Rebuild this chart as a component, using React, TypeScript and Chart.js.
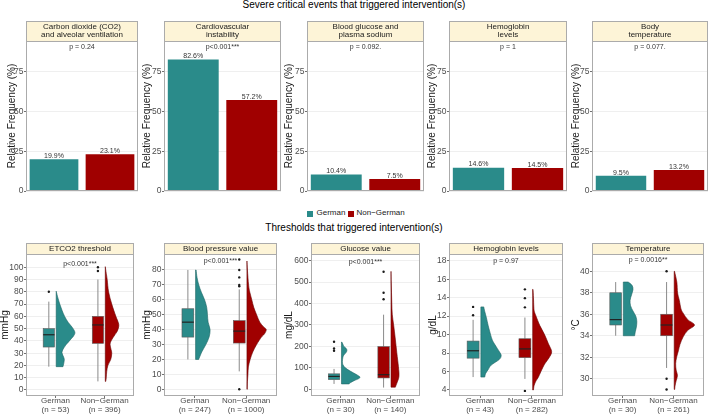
import React, { useEffect, useRef } from "react";
import { Chart, registerables } from "chart.js";

Chart.register(...registerables);

const FONT = "'Liberation Sans', Arial, Helvetica, sans-serif";
const TEAL = "#2A8B8A";
const RED = "#A00000";
const TEAL_EDGE = "#1D6463";
const RED_EDGE = "#6A0000";
const STRIP_FILL = "#FDF4D7";
const FRAME = "#ABABAB";
const GRID = "#EBEBEB";
const TICK_TEXT = "#4D4D4D";
const WHISKER = "#8A8A8A";
const BOX_EDGE = "#5A5A5A";
const MEDIAN = "#222222";

// ---------- Severe critical events that triggered intervention(s) ----------
const eventStrips = [
  ["Carbon dioxide (CO2)", "and alveolar ventilation"],
  ["Cardiovascular", "instability"],
  ["Blood glucose and", "plasma sodium"],
  ["Hemoglobin", "levels"],
  ["Body", "temperature"],
];
const eventPLabels = ["p = 0.24", "p<0.001***", "p = 0.092.", "p = 1", "p = 0.077."];
const germanFreq = [19.9, 82.6, 10.4, 14.6, 9.5];
const nonGermanFreq = [23.1, 57.2, 7.5, 14.5, 13.2];
const freqTicks = [0, 25, 50, 75];
const groupNames = ["German", "Non\u2212German"];

// ---------- Thresholds that triggered intervention(s) ----------
const thresholdStrips = ["ETCO2 threshold", "Blood pressure value", "Glucose value", "Hemoglobin levels", "Temperature"];
const thresholdUnits = ["mmHg", "mmHg", "mg/dL", "g/dL", "\u00B0C"];
const thresholdPLabels = ["p<0.001***", "p<0.001***", "p<0.001***", "p = 0.97", "p = 0.0016**"];
const germanN = [53, 247, 30, 43, 30];
const nonGermanN = [396, 1000, 140, 282, 261];

const etco2Ticks = [0, 10, 20, 30, 40, 50, 60, 70, 80, 90, 100];
const bpTicks = [0, 10, 20, 30, 40, 50, 60, 70, 80];
const glucoseTicks = [0, 100, 200, 300, 400, 500, 600];
const hbTicks = [4, 6, 8, 10, 12, 14, 16, 18];
const tempTicks = [30, 32, 34, 36, 38, 40];

// box statistics: [lower whisker, Q1, median, Q3, upper whisker]
const etco2GermanBox = [19, 35, 45, 50, 72];
const etco2NonGermanBox = [7, 38, 53, 60, 90];
const bpGermanBox = [20, 35, 45, 54, 80];
const bpNonGermanBox = [12, 31, 39, 46, 67];
const glucoseGermanBox = [25, 45, 60, 72, 95];
const glucoseNonGermanBox = [8, 53, 68, 199, 348];
const hbGermanBox = [5.4, 7.45, 8.25, 9.3, 11.6];
const hbNonGermanBox = [5.2, 7.5, 8.45, 9.55, 11.85];
const tempGermanBox = [34, 35, 35.5, 38, 39];
const tempNonGermanBox = [31, 34, 35, 36, 39];

// outlying observations
const etco2GermanOut = [80];
const etco2NonGermanOut = [97, 100];
const bpGermanOut: number[] = [];
const bpNonGermanOut = [0, 69, 70, 75, 80, 87];
const glucoseGermanOut = [180, 190, 222];
const glucoseNonGermanOut = [420, 450, 548];
const hbGermanOut = [12.1, 13];
const hbNonGermanOut = [3.9, 12.95, 13.95, 14.9];
const tempGermanOut: number[] = [];
const tempNonGermanOut = [29, 30, 40];

// half-violin density profiles: [value, density width in x units], top to bottom
const etco2GermanViolin = [[80.5, 0], [75, 0.035], [70, 0.073], [65, 0.118], [60, 0.171], [55, 0.246], [51, 0.328], [47, 0.381], [44, 0.354], [41.6, 0.303], [38, 0.226], [36, 0.185], [33, 0.138], [30.6, 0.118], [28, 0.138], [25, 0.165], [21, 0.151], [19, 0.138]];
const etco2NonGermanViolin = [[100.5, 0], [95, 0.02], [90, 0.039], [80, 0.067], [70, 0.132], [60, 0.216], [55, 0.265], [52, 0.275], [48, 0.246], [45, 0.196], [40, 0.118], [37, 0.098], [33, 0.118], [30, 0.132], [25, 0.112], [20, 0.053], [15, 0.029], [10, 0.02], [7, 0.01]];
const bpGermanViolin = [[80, 0.01], [75, 0.028], [70, 0.062], [65, 0.113], [60, 0.175], [55, 0.216], [50, 0.231], [45, 0.244], [40, 0.282], [35, 0.263], [30, 0.2], [25, 0.12], [20, 0.06]];
const bpNonGermanViolin = [[86, 0], [80, 0.009], [70, 0.032], [65, 0.056], [60, 0.094], [55, 0.132], [50, 0.188], [45, 0.25], [42, 0.32], [40, 0.376], [37, 0.338], [35, 0.282], [30, 0.188], [25, 0.113], [20, 0.062], [15, 0.028], [10, 0.019], [5, 0.009], [0, 0.006]];
const glucoseGermanViolin = [[220, 0.01], [210, 0.029], [200, 0.049], [190, 0.097], [180, 0.109], [170, 0.088], [160, 0.049], [150, 0.029], [130, 0.019], [115, 0.029], [100, 0.078], [85, 0.175], [70, 0.292], [58, 0.37], [50, 0.35], [40, 0.253], [30, 0.175], [25, 0.156]];
const glucoseNonGermanViolin = [[550, 0], [500, 0.004], [450, 0.01], [400, 0.016], [350, 0.025], [300, 0.053], [240, 0.084], [170, 0.117], [105, 0.15], [60, 0.16], [28, 0.117], [10, 0.088]];
const hbGermanViolin = [[13, 0.056], [12.5, 0.075], [11.85, 0.106], [11, 0.14], [10.4, 0.168], [9.5, 0.215], [9, 0.261], [8.5, 0.317], [8, 0.373], [7.7, 0.392], [7.3, 0.354], [6.7, 0.2], [6.2, 0.14], [5.8, 0.093], [5.4, 0.075]];
const hbNonGermanViolin = [[14.9, 0.006], [14, 0.015], [13, 0.022], [12.5, 0.032], [12, 0.065], [11, 0.136], [10, 0.229], [9, 0.304], [8.15, 0.366], [7.5, 0.317], [6.8, 0.229], [6, 0.159], [5.35, 0.106], [5, 0.065], [4.5, 0.028], [4, 0.015]];
const tempGermanViolin = [[39, 0.095], [38.7, 0.171], [38.3, 0.19], [37.8, 0.161], [37.3, 0.133], [36.8, 0.142], [36.3, 0.19], [35.8, 0.247], [35.3, 0.266], [34.8, 0.256], [34.4, 0.237], [34, 0.222]];
const tempNonGermanViolin = [[40, 0.006], [39, 0.051], [38, 0.066], [37.3, 0.1], [36.5, 0.133], [36.1, 0.176], [35.5, 0.266], [35, 0.398], [34.5, 0.266], [33.9, 0.176], [33.2, 0.114], [32.6, 0.082], [32, 0.047], [31.4, 0.028], [30.8, 0.038], [30.3, 0.063], [29.8, 0.038], [29.4, 0.019], [29, 0.009]];

const thresholdPanels = [
  { ticks: etco2Ticks, range: [-4.9, 110.8], pY: 102.7, boxes: [etco2GermanBox, etco2NonGermanBox], outliers: [etco2GermanOut, etco2NonGermanOut], violins: [etco2GermanViolin, etco2NonGermanViolin] },
  { ticks: bpTicks, range: [-4.5, 90.7], pY: 86, boxes: [bpGermanBox, bpNonGermanBox], outliers: [bpGermanOut, bpNonGermanOut], violins: [bpGermanViolin, bpNonGermanViolin] },
  { ticks: glucoseTicks, range: [-31.3, 631], pY: 595, boxes: [glucoseGermanBox, glucoseNonGermanBox], outliers: [glucoseGermanOut, glucoseNonGermanOut], violins: [glucoseGermanViolin, glucoseNonGermanViolin] },
  { ticks: hbTicks, range: [3.35, 18.73], pY: 18, boxes: [hbGermanBox, hbNonGermanBox], outliers: [hbGermanOut, hbNonGermanOut], violins: [hbGermanViolin, hbNonGermanViolin] },
  { ticks: tempTicks, range: [28.39, 41.61], pY: 41, boxes: [tempGermanBox, tempNonGermanBox], outliers: [tempGermanOut, tempNonGermanOut], violins: [tempGermanViolin, tempNonGermanViolin] },
];

// ---------- layout ----------
const FREQ_MAX = 94.2;
const FREQ_P_Y = 90.5;
const BOX_SHIFT = -0.135;
const BOX_HALF = 0.115;
const VIOLIN_SHIFT = 0.015;

const topPanels = [
  { left: 6, axisW: 20, right: 138 },
  { left: 141, axisW: 23, right: 281 },
  { left: 283, axisW: 24, right: 424 },
  { left: 426, axisW: 23, right: 567 },
  { left: 570, axisW: 22, right: 708 },
];
const bottomPanels = [
  { left: -1, axisW: 27, right: 138 },
  { left: 141, axisW: 23, right: 281 },
  { left: 283, axisW: 28, right: 424 },
  { left: 427, axisW: 22, right: 567 },
  { left: 570, axisW: 22, right: 708 },
];
const TOP_Y = 21;
const TOP_STRIP = 20;
const TOP_H = 178;
const BOT_Y = 243;
const BOT_STRIP = 11;
const BOT_H = 171;
const X_AXIS_H = 18;

const panelDecor = {
  id: "panelDecor",
  afterDraw(chart: any, _args: any, opts: any) {
    const { ctx, chartArea: a } = chart;
    const ys = chart.scales.y;
    const w = a.right - a.left;
    const stripTop = a.top - opts.stripH;
    ctx.save();
    ctx.fillStyle = STRIP_FILL;
    ctx.fillRect(a.left, stripTop, w, opts.stripH);
    ctx.strokeStyle = FRAME;
    ctx.lineWidth = 1;
    ctx.strokeRect(a.left + 0.5, stripTop + 0.5, w - 1, opts.stripH);
    ctx.strokeRect(a.left + 0.5, a.top + 0.5, w - 1, a.bottom - a.top - 1);
    const cx = (a.left + a.right) / 2;
    ctx.fillStyle = "#1A1A1A";
    ctx.font = `8px ${FONT}`;
    ctx.textAlign = "center";
    ctx.textBaseline = "middle";
    const lines: string[] = opts.strip;
    const mid = stripTop + opts.stripH / 2;
    lines.forEach((t, k) => ctx.fillText(t, cx, mid + (k - (lines.length - 1) / 2) * 8.3));
    ctx.font = `7px ${FONT}`;
    ctx.fillStyle = "#333333";
    ctx.fillText(opts.pLabel, cx, ys.getPixelForValue(opts.pY));
    ctx.restore();
  },
};

const barValues = {
  id: "barValues",
  afterDatasetsDraw(chart: any) {
    const { ctx } = chart;
    const meta = chart.getDatasetMeta(0);
    const vals = chart.data.datasets[0].data;
    ctx.save();
    ctx.font = `7px ${FONT}`;
    ctx.fillStyle = "#333333";
    ctx.textAlign = "center";
    ctx.textBaseline = "alphabetic";
    meta.data.forEach((el: any, k: number) => ctx.fillText(`${Number(vals[k]).toFixed(1)}%`, el.x, el.y - 1.3));
    ctx.restore();
  },
};

function drawViolin(ctx: any, xs: any, ys: any, base: number, profile: number[][], fill: string, edge: string) {
  const x0 = xs.getPixelForValue(base);
  const pts = profile.map(([v, w]) => [xs.getPixelForValue(base + w), ys.getPixelForValue(v)]);
  ctx.beginPath();
  ctx.moveTo(x0, pts[0][1]);
  ctx.lineTo(pts[0][0], pts[0][1]);
  for (let i = 0; i < pts.length - 1; i++) {
    const p0 = pts[Math.max(i - 1, 0)];
    const p1 = pts[i];
    const p2 = pts[i + 1];
    const p3 = pts[Math.min(i + 2, pts.length - 1)];
    ctx.bezierCurveTo(
      p1[0] + (p2[0] - p0[0]) / 6, p1[1] + (p2[1] - p0[1]) / 6,
      p2[0] - (p3[0] - p1[0]) / 6, p2[1] - (p3[1] - p1[1]) / 6,
      p2[0], p2[1]
    );
  }
  ctx.lineTo(x0, pts[pts.length - 1][1]);
  ctx.closePath();
  ctx.fillStyle = fill;
  ctx.fill();
  ctx.strokeStyle = edge;
  ctx.lineWidth = 0.6;
  ctx.stroke();
}

function drawBox(ctx: any, xs: any, ys: any, cx: number, stats: number[], fill: string) {
  const [lo, q1, med, q3, hi] = stats;
  const x = xs.getPixelForValue(cx);
  const xl = xs.getPixelForValue(cx - BOX_HALF);
  const xr = xs.getPixelForValue(cx + BOX_HALF);
  ctx.strokeStyle = WHISKER;
  ctx.lineWidth = 1;
  ctx.beginPath();
  ctx.moveTo(x, ys.getPixelForValue(hi));
  ctx.lineTo(x, ys.getPixelForValue(q3));
  ctx.moveTo(x, ys.getPixelForValue(q1));
  ctx.lineTo(x, ys.getPixelForValue(lo));
  ctx.stroke();
  const yt = ys.getPixelForValue(q3);
  const yb = ys.getPixelForValue(q1);
  ctx.fillStyle = fill;
  ctx.fillRect(xl, yt, xr - xl, yb - yt);
  ctx.strokeStyle = BOX_EDGE;
  ctx.lineWidth = 0.6;
  ctx.strokeRect(xl, yt, xr - xl, yb - yt);
  ctx.strokeStyle = MEDIAN;
  ctx.lineWidth = 1.2;
  ctx.beginPath();
  ctx.moveTo(xl, ys.getPixelForValue(med));
  ctx.lineTo(xr, ys.getPixelForValue(med));
  ctx.stroke();
}

const rainCloud = {
  id: "rainCloud",
  beforeDatasetsDraw(chart: any, _args: any, opts: any) {
    const { ctx, chartArea: a } = chart;
    const xs = chart.scales.x;
    const ys = chart.scales.y;
    const fills = [TEAL, RED];
    const edges = [TEAL_EDGE, RED_EDGE];
    ctx.save();
    ctx.beginPath();
    ctx.rect(a.left, a.top, a.right - a.left, a.bottom - a.top);
    ctx.clip();
    [0, 1].forEach((k) => {
      const c = k + 1;
      drawViolin(ctx, xs, ys, c + VIOLIN_SHIFT, opts.violins[k], fills[k], edges[k]);
      drawBox(ctx, xs, ys, c + BOX_SHIFT, opts.boxes[k], fills[k]);
    });
    ctx.restore();
  },
};

function yAxis(axisW: number, title: string, ticks: number[], min: number, max: number) {
  return {
    type: "linear",
    min,
    max,
    afterBuildTicks: (s: any) => {
      s.ticks = ticks.map((v) => ({ value: v }));
    },
    afterFit: (s: any) => {
      s.width = axisW;
    },
    ticks: { autoSkip: false, padding: 0.5, color: TICK_TEXT, font: { family: FONT, size: 8.5 } },
    grid: { color: GRID, lineWidth: 0.8, drawTicks: true, tickLength: 2, tickColor: TICK_TEXT, tickWidth: 0.8 },
    border: { display: false },
    title: { display: true, text: title, color: "#1A1A1A", padding: 0, font: { family: FONT, size: 10 } },
  };
}

function ChartCanvas({ left, top, width, height, make }: any) {
  const ref = useRef<HTMLCanvasElement>(null);
  useEffect(() => {
    const chart = new Chart(ref.current as HTMLCanvasElement, make());
    return () => chart.destroy();
  }, []);
  return (
    <canvas
      ref={ref}
      width={width}
      height={height}
      style={{ position: "absolute", left, top, width, height }}
    />
  );
}

function eventConfig(i: number): any {
  const g = topPanels[i];
  return {
    type: "bar",
    data: {
      labels: groupNames,
      datasets: [
        {
          data: [germanFreq[i], nonGermanFreq[i]],
          backgroundColor: [TEAL, RED],
          borderWidth: 0,
          barPercentage: 0.87,
          categoryPercentage: 1,
        },
      ],
    },
    options: {
      responsive: false,
      animation: false,
      events: [],
      layout: { padding: { top: TOP_STRIP, bottom: TOP_H - TOP_STRIP - 150, left: 0, right: 0 } },
      plugins: {
        legend: { display: false },
        tooltip: { enabled: false },
        panelDecor: { strip: eventStrips[i], stripH: TOP_STRIP, pLabel: eventPLabels[i], pY: FREQ_P_Y },
      },
      scales: {
        x: { type: "category", display: false, offset: true },
        y: yAxis(g.axisW, "Relative Frequency (%)", freqTicks, 0, FREQ_MAX),
      },
    },
    plugins: [barValues, panelDecor],
  };
}

function thresholdConfig(i: number): any {
  const g = bottomPanels[i];
  const p = thresholdPanels[i];
  const points = [
    ...p.outliers[0].map((v) => ({ x: 1 + BOX_SHIFT, y: v })),
    ...p.outliers[1].map((v) => ({ x: 2 + BOX_SHIFT, y: v })),
  ];
  return {
    type: "scatter",
    data: {
      datasets: [
        { data: points, pointRadius: 1.2, pointBackgroundColor: "#1A1A1A", pointBorderWidth: 0, showLine: false },
      ],
    },
    options: {
      responsive: false,
      animation: false,
      events: [],
      layout: { padding: { top: BOT_STRIP, bottom: 0, left: 0, right: 0 } },
      plugins: {
        legend: { display: false },
        tooltip: { enabled: false },
        panelDecor: { strip: [thresholdStrips[i]], stripH: BOT_STRIP, pLabel: thresholdPLabels[i], pY: p.pY },
        rainCloud: { boxes: p.boxes, violins: p.violins },
      },
      scales: {
        x: {
          type: "linear",
          min: 0.4,
          max: 2.6,
          afterBuildTicks: (s: any) => {
            s.ticks = [{ value: 1 }, { value: 2 }];
          },
          afterFit: (s: any) => {
            s.height = X_AXIS_H;
          },
          ticks: {
            autoSkip: false,
            maxRotation: 0,
            padding: -0.8,
            color: TICK_TEXT,
            font: { family: FONT, size: 8, lineHeight: 1.02 },
            callback: (v: number) =>
              v === 1 ? [groupNames[0], `(n = ${germanN[i]})`] : [groupNames[1], `(n = ${nonGermanN[i]})`],
          },
          grid: { drawOnChartArea: false, drawTicks: true, tickLength: 2, tickColor: TICK_TEXT, tickWidth: 0.8 },
          border: { display: false },
        },
        y: yAxis(g.axisW, thresholdUnits[i], p.ticks, p.range[0], p.range[1]),
      },
    },
    plugins: [rainCloud, panelDecor],
  };
}

export default function App() {
  const text = (extra: any) => ({
    position: "absolute" as const,
    fontFamily: FONT,
    whiteSpace: "nowrap" as const,
    ...extra,
  });
  return (
    <div
      style={{
        position: "fixed",
        left: 0,
        top: 0,
        width: 709,
        height: 414,
        background: "#FFFFFF",
        overflow: "hidden",
      }}
    >
      <div style={text({ left: 0, top: 0, width: 708, textAlign: "center", fontSize: 10, lineHeight: "10px", color: "#000" })}>
        Severe critical events that triggered intervention(s)
      </div>
      {topPanels.map((g, i) => (
        <ChartCanvas key={`e${i}`} left={g.left} top={TOP_Y} width={g.right - g.left} height={TOP_H} make={() => eventConfig(i)} />
      ))}
      <div style={{ position: "absolute", left: 307, top: 210.5, width: 6, height: 6, background: TEAL }} />
      <div style={text({ left: 316.5, top: 209, fontSize: 8, lineHeight: "8px", color: "#1A1A1A" })}>{groupNames[0]}</div>
      <div style={{ position: "absolute", left: 348, top: 210.5, width: 6, height: 6, background: RED }} />
      <div style={text({ left: 356.5, top: 209, fontSize: 8, lineHeight: "8px", color: "#1A1A1A" })}>{groupNames[1]}</div>
      <div style={text({ left: 0, top: 223, width: 708, textAlign: "center", fontSize: 10, lineHeight: "10px", color: "#000" })}>
        Thresholds that triggered intervention(s)
      </div>
      {bottomPanels.map((g, i) => (
        <ChartCanvas key={`t${i}`} left={g.left} top={BOT_Y} width={g.right - g.left} height={BOT_H} make={() => thresholdConfig(i)} />
      ))}
    </div>
  );
}
